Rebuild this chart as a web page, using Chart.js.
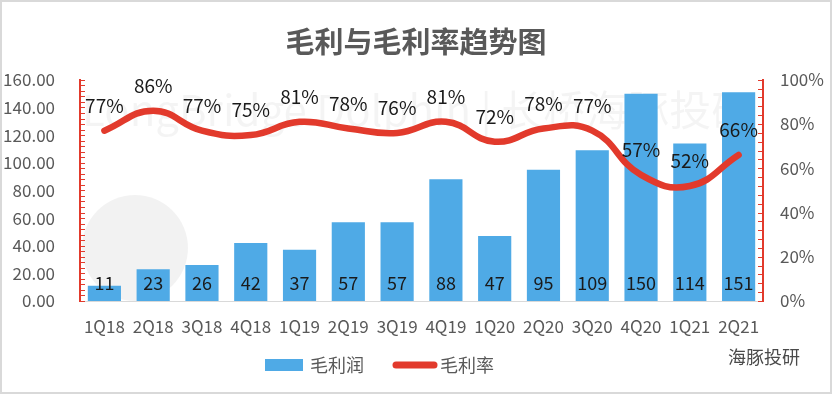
<!DOCTYPE html>
<html>
<head>
<meta charset="utf-8">
<script src="https://cdn.jsdelivr.net/npm/chart.js@4.4.1/dist/chart.umd.min.js"></script>
<style>
html,body{margin:0;padding:0;background:#fff;}
#wrap{width:832px;height:394px;}
</style>
</head>
<body>
<div id="wrap"><canvas id="c" width="832" height="394"></canvas></div>
<script>
// ---- data ----
const categories = ['1Q18','2Q18','3Q18','4Q18','1Q19','2Q19','3Q19','4Q19','1Q20','2Q20','3Q20','4Q20','1Q21','2Q21'];
const grossProfit = [11, 23, 26, 42, 37, 57, 57, 88, 47, 95, 109, 150, 114, 151];
const grossMargin = [77, 86, 77, 75, 81, 78, 76, 81, 72, 78, 77, 57, 52, 66];
const leftTickValues = [0, 20, 40, 60, 80, 100, 120, 140, 160];
const rightTickValues = [0, 20, 40, 60, 80, 100];
const seriesNames = ['毛利润', '毛利率'];
const titleText = '毛利与毛利率趋势图';

// ---- style ----
const FONT = "'Noto Sans CJK SC', 'Noto Sans', sans-serif";
const BLUE = '#4FAAE6';
const RED = '#E23A2C';
const GREY = '#595959';

const framePlugin = {
  id: 'frame',
  beforeDraw(chart) {
    const ctx = chart.ctx;
    ctx.save();
    ctx.fillStyle = '#ffffff';
    ctx.fillRect(0, 0, chart.width, chart.height);
    ctx.strokeStyle = '#d9d9d9';
    ctx.lineWidth = 2;
    ctx.strokeRect(1, 1, chart.width - 2, chart.height - 2);
    ctx.restore();
  },
  beforeDatasetsDraw(chart) {
    const ctx = chart.ctx;
    const a = chart.chartArea;
    ctx.save();
    // faint watermark
    ctx.fillStyle = 'rgba(0,0,0,0.045)';
    ctx.font = '42px ' + FONT;
    ctx.textBaseline = 'middle';
    ctx.textAlign = 'left';
    ctx.fillText('LongBridge Dolphin | 长桥海豚投研', a.left + 2, 110);
    // faint logo disc
    ctx.beginPath();
    ctx.rect(a.left, a.top, a.right - a.left, a.bottom - a.top);
    ctx.clip();
    ctx.beginPath();
    ctx.arc(a.left + 55, 248, 53, 0, Math.PI * 2);
    ctx.fillStyle = 'rgba(0,0,0,0.05)';
    ctx.fill();
    ctx.restore();
  },
  afterDatasetsDraw(chart) {
    const ctx = chart.ctx;
    const y = chart.scales.y;
    ctx.save();
    ctx.fillStyle = '#1a1a1a';
    ctx.textAlign = 'center';
    ctx.textBaseline = 'middle';
    ctx.font = '18px ' + FONT;
    const barMeta = chart.getDatasetMeta(0);
    barMeta.data.forEach((el, i) => {
      ctx.fillText(String(grossProfit[i]), el.x, y.getPixelForValue(0) - 18);
    });
    ctx.font = '19px ' + FONT;
    const lineMeta = chart.getDatasetMeta(1);
    lineMeta.data.forEach((el, i) => {
      ctx.fillText(grossMargin[i] + '%', el.x, el.y - 25);
    });
    ctx.restore();
  },
  afterDraw(chart) {
    const ctx = chart.ctx;
    const y = chart.scales.y, y1 = chart.scales.y1;
    ctx.save();
    ctx.strokeStyle = RED;
    ctx.lineWidth = 1;
    for (let v = 0; v <= 160; v += 4) {
      const py = Math.round(y.getPixelForValue(v)) + 0.5;
      ctx.beginPath(); ctx.moveTo(y.right, py); ctx.lineTo(y.right + 5, py); ctx.stroke();
    }
    for (let v = 0; v <= 100; v += 4) {
      const py = Math.round(y1.getPixelForValue(v)) + 0.5;
      ctx.beginPath(); ctx.moveTo(y1.left, py); ctx.lineTo(y1.left - 5, py); ctx.stroke();
    }
    // legend
    const ly = 365;
    ctx.fillStyle = BLUE;
    ctx.fillRect(265, ly - 6, 38, 12);
    ctx.font = '18px ' + FONT;
    ctx.fillStyle = GREY;
    ctx.textAlign = 'left';
    ctx.textBaseline = 'middle';
    ctx.fillText(seriesNames[0], 310, ly);
    ctx.strokeStyle = RED;
    ctx.lineWidth = 7;
    ctx.lineCap = 'round';
    ctx.beginPath(); ctx.moveTo(396, ly); ctx.lineTo(434, ly); ctx.stroke();
    ctx.fillText(seriesNames[1], 440, ly);
    // source mark
    ctx.font = '18px ' + FONT;
    ctx.fillStyle = '#4a4a4a';
    ctx.fillText('海豚投研', 728, 357);
    ctx.restore();
  }
};

new Chart(document.getElementById('c'), {
  data: {
    labels: categories,
    datasets: [
      {
        type: 'bar',
        label: seriesNames[0],
        data: grossProfit,
        backgroundColor: BLUE,
        barPercentage: 0.68,
        categoryPercentage: 1,
        yAxisID: 'y',
        order: 1
      },
      {
        type: 'line',
        label: seriesNames[1],
        data: grossMargin,
        borderColor: RED,
        backgroundColor: RED,
        borderWidth: 6.5,
        tension: 0.45,
        pointRadius: 0,
        borderCapStyle: 'round',
        yAxisID: 'y1',
        order: 0
      }
    ]
  },
  options: {
    responsive: false,
    animation: false,
    layout: { padding: { left: 0, right: 0, top: 0, bottom: 48 } },
    plugins: {
      legend: { display: false },
      tooltip: { enabled: false },
      title: {
        display: true,
        text: titleText,
        color: GREY,
        font: { family: FONT, size: 29, weight: 'bold' },
        padding: { top: 25, bottom: 20 }
      }
    },
    scales: {
      x: {
        grid: { display: false, drawTicks: false },
        border: { display: true, color: '#d9d9d9', width: 1 },
        ticks: { color: GREY, font: { family: FONT, size: 17 }, padding: 15, maxRotation: 0 },
        afterFit(s) { s.height = 45; }
      },
      y: {
        position: 'left',
        min: 0, max: 160,
        afterBuildTicks(s) { s.ticks = leftTickValues.map(v => ({ value: v })); },
        grid: { display: false, drawTicks: false },
        border: { display: true, color: RED, width: 2 },
        ticks: { color: GREY, font: { family: FONT, size: 17 }, padding: 25, callback: v => Number(v).toFixed(2) },
        afterFit(s) { s.width = 80; }
      },
      y1: {
        position: 'right',
        min: 0, max: 100,
        afterBuildTicks(s) { s.ticks = rightTickValues.map(v => ({ value: v })); },
        grid: { display: false, drawTicks: false },
        border: { display: true, color: RED, width: 2 },
        ticks: { color: GREY, font: { family: FONT, size: 17 }, padding: 17, callback: v => v + '%' },
        afterFit(s) { s.width = 69; }
      }
    }
  },
  plugins: [framePlugin]
});
</script>
</body>
</html>
